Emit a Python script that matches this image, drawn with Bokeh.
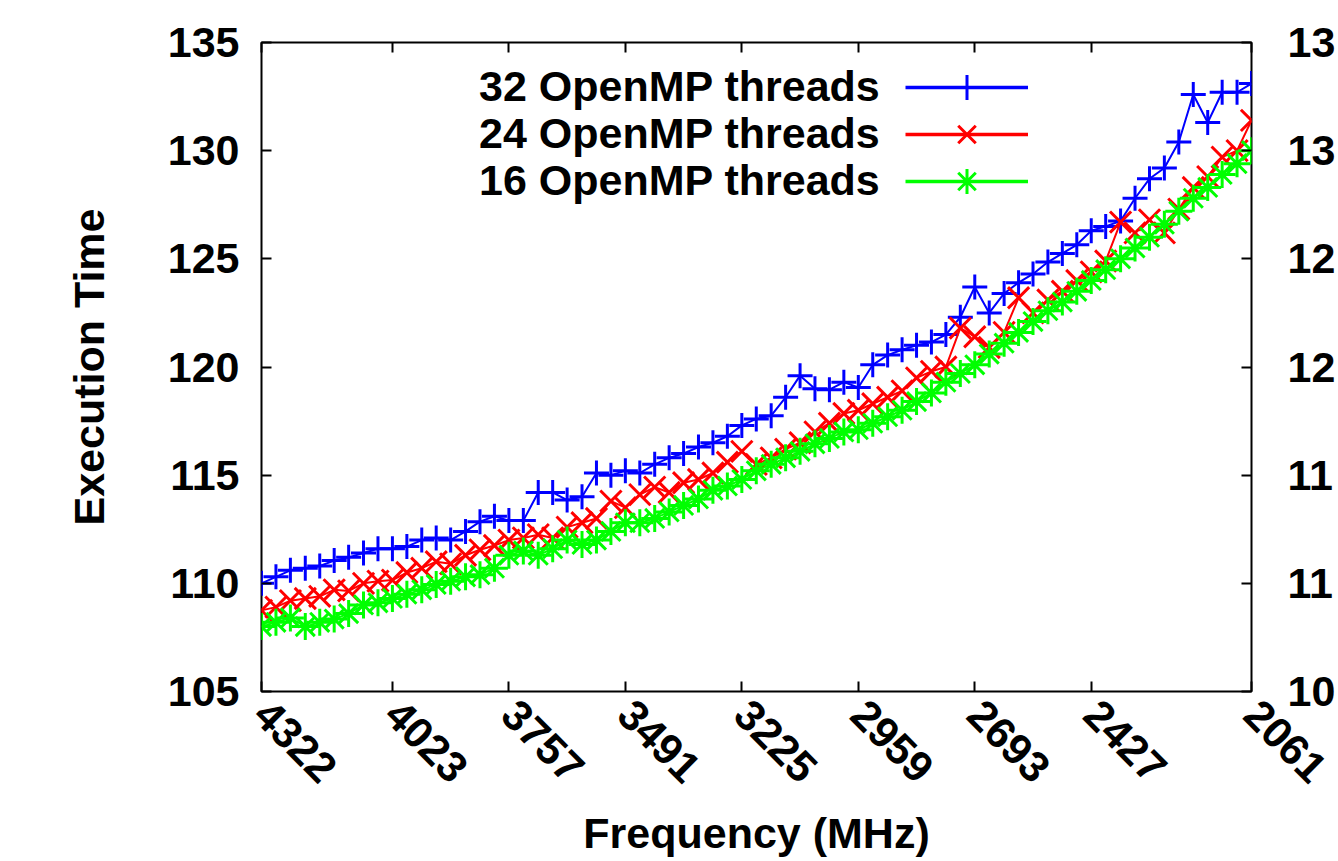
from math import pi
from bokeh.plotting import figure
from bokeh.models import Range1d, FixedTicker, LinearAxis, Legend, LegendItem, Label
from bokeh.embed import file_html
from bokeh.resources import INLINE

# ---- data ----
freq_mhz = [4322, 4289, 4256, 4222, 4189, 4156, 4123, 4089, 4056, 4023,
            3990, 3956, 3923, 3890, 3856, 3823, 3790, 3757,
            3724, 3690, 3657, 3624, 3590, 3557, 3524, 3491,
            3458, 3424, 3391, 3358, 3324, 3291, 3258, 3225,
            3192, 3158, 3125, 3092, 3058, 3025, 2992, 2959,
            2926, 2892, 2859, 2826, 2792, 2759, 2726, 2693,
            2660, 2626, 2593, 2560, 2526, 2493, 2460, 2427,
            2394, 2360, 2327, 2294, 2260, 2227, 2194, 2161, 2128, 2094, 2061]

time_32 = [110.0, 110.3, 110.6, 110.7, 110.8, 111.05, 111.2, 111.4, 111.6, 111.6,
           111.7, 112.0, 112.1, 112.0, 112.4, 112.85, 113.1, 112.9,
           112.9, 114.2, 114.2, 113.85, 114.0, 115.1, 115.0, 115.2,
           115.1, 115.5, 115.8, 116.0, 116.3, 116.5, 116.8, 117.3,
           117.6, 117.75, 118.6, 119.6, 119.0, 118.95, 119.3, 119.05,
           120.1, 120.55, 120.8, 121.0, 121.15, 121.5, 122.3, 123.7,
           122.5, 123.4, 123.9, 124.3, 124.85, 125.25, 125.65, 126.3,
           126.5, 126.75, 127.8, 128.7, 129.2, 130.4, 132.6, 131.3, 132.7, 132.7, 133.1]

time_24 = [108.75, 108.9, 109.2, 109.3, 109.4, 109.7, 109.65, 110.0, 110.1, 110.15,
           110.5, 110.7, 111.0, 110.9, 111.3, 111.55, 111.75, 112.0,
           112.1, 112.25, 112.1, 112.6, 112.8, 113.0, 113.8, 113.5,
           114.1, 114.45, 114.2, 114.65, 114.8, 115.1, 115.6, 116.1,
           115.5, 115.8, 116.2, 116.5, 117.0, 117.4, 117.85, 118.0,
           118.3, 118.6, 118.9, 119.5, 119.8, 120.0, 121.8, 121.4,
           120.9, 121.6, 123.2, 122.5, 123.1, 123.5, 124.0, 124.4,
           124.9, 126.7, 126.2, 126.8, 126.2, 127.3, 128.3, 128.8, 129.7, 130.0, 131.4]

time_16 = [108.0, 108.2, 108.4, 108.0, 108.2, 108.35, 108.6, 109.0, 109.1, 109.3,
           109.5, 109.7, 109.95, 110.1, 110.3, 110.4, 110.7, 111.3,
           111.5, 111.3, 111.6, 112.0, 111.8, 112.0, 112.4, 112.8,
           112.8, 113.0, 113.3, 113.6, 113.9, 114.3, 114.5, 114.8,
           115.2, 115.5, 115.8, 116.1, 116.45, 116.7, 117.0, 117.1,
           117.4, 117.7, 118.0, 118.4, 118.8, 119.3, 119.7, 120.1,
           120.6, 121.1, 121.6, 122.1, 122.6, 123.0, 123.5, 124.0,
           124.5, 125.0, 125.5, 126.0, 126.6, 127.2, 127.8, 128.3, 128.9, 129.4, 130.0]

x_ticks = [4322, 4023, 3757, 3491, 3225, 2959, 2693, 2427, 2061]
y_ticks = [105, 110, 115, 120, 125, 130, 135]
right_tick_text = {105: "10", 110: "11", 115: "11", 120: "12", 125: "12", 130: "13", 135: "13"}

series_labels = ["32 OpenMP threads", "24 OpenMP threads", "16 OpenMP threads"]

FONT = "Liberation Sans"
FS = "43px"

p = figure(width=1338, height=861, output_backend="svg", toolbar_location=None,
           x_range=Range1d(4322, 2061), y_range=Range1d(105, 135),
           min_border_left=261, min_border_right=85, min_border_top=42,
           min_border_bottom=170)
p.xgrid.visible = False
p.ygrid.visible = False
p.outline_line_color = "black"
p.outline_line_width = 2
p.background_fill_color = "white"
p.border_fill_color = "white"


def style_axis(ax):
    ax.axis_line_color = None
    ax.major_tick_in = 10
    ax.major_tick_out = 0
    ax.minor_tick_in = 0
    ax.minor_tick_out = 0
    ax.major_tick_line_color = "black"
    ax.major_tick_line_width = 2
    ax.major_label_text_font = FONT
    ax.major_label_text_font_size = FS
    ax.major_label_text_font_style = "bold"
    ax.major_label_text_color = "black"
    ax.axis_label_text_font = FONT
    ax.axis_label_text_font_size = FS
    ax.axis_label_text_font_style = "bold"
    ax.axis_label_text_color = "black"


xa = p.xaxis[0]
xa.ticker = FixedTicker(ticks=x_ticks)
style_axis(xa)
xa.major_label_orientation = -pi / 4
xa.major_label_standoff = 16
xa.axis_label = "Frequency (MHz)"
xa.axis_label_standoff = 10

ya = p.yaxis[0]
ya.ticker = FixedTicker(ticks=y_ticks)
style_axis(ya)
ya.major_label_standoff = 22
ya.axis_label = "Execution Time"
ya.axis_label_standoff = 52

# mirrored ticks on the top edge (no labels drawn)
top = LinearAxis(ticker=FixedTicker(ticks=x_ticks))
style_axis(top)
top.major_label_text_font_size = "2px"
top.major_label_text_color = None
top.major_label_standoff = 0
p.add_layout(top, "above")

right = LinearAxis(ticker=FixedTicker(ticks=y_ticks), major_label_overrides=right_tick_text)
style_axis(right)
right.major_label_standoff = 36
p.add_layout(right, "right")

colors = ["#0000ff", "#ff0000", "#00ff00"]
markers = ["cross", "x", "asterisk"]
sizes = [25, 30, 27]
key_rows = [0, 1, 2]
nan = float("nan")
for ys, col, mk, sz, lab, k in zip([time_32, time_24, time_16], colors, markers,
                                   sizes, series_labels, key_rows):
    ln = p.line(freq_mhz, ys, line_color=col, line_width=2)
    sc = p.scatter(freq_mhz, ys, marker=mk, size=sz, line_color=col, line_width=3)
    # renderer holding no drawable point, only used for a thicker key sample line
    key_line = p.line(x=[nan], y=[nan], line_color=col, line_width=3.5)
    # gnuplot-style key: sample on the right, right-aligned text on the left
    key = Legend(items=[LegendItem(label=lab, renderers=[key_line, sc])],
                 location=(644, 573 - 47 * k), glyph_width=123, glyph_height=62,
                 label_height=0, label_width=0, label_standoff=0,
                 padding=0, margin=0, border_line_alpha=0,
                 background_fill_alpha=0, label_text_font=FONT,
                 label_text_font_size="2px", label_text_color=None)
    p.add_layout(key)
    p.add_layout(Label(x=619, y=606 - 47 * k, x_units="screen", y_units="screen",
                       text=lab, text_align="right", text_baseline="middle",
                       text_font=FONT, text_font_size=FS, text_font_style="bold",
                       text_color="black"))

open("out.html", "w").write(file_html(p, INLINE))
